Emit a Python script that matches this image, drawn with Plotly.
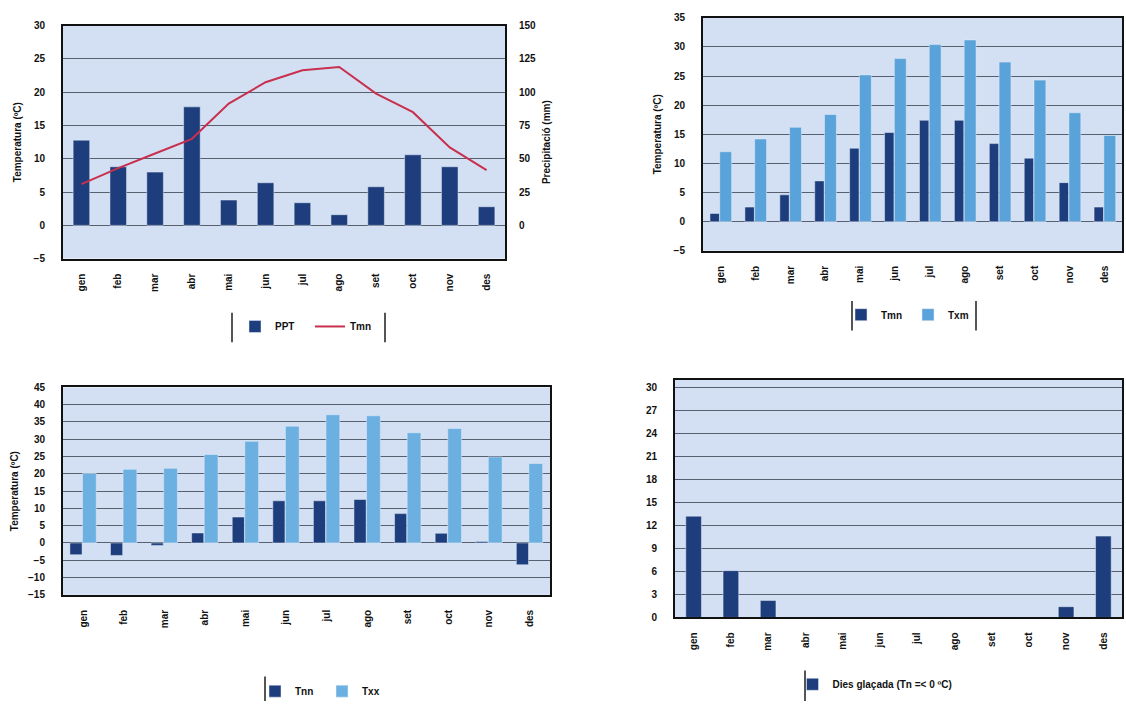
import plotly.graph_objects as go

months = ["gen", "feb", "mar", "abr", "mai", "jun", "jul", "ago", "set", "oct", "nov", "des"]

# climograma: precipitació (mm) i temperatura mitjana (ºC)
ppt = [64, 44, 40, 89, 19, 32, 17, 8, 29, 53, 44, 14]
tmn_mean = [6.2, 8.6, 10.8, 13.0, 18.3, 21.5, 23.3, 23.8, 19.8, 17.0, 11.7, 8.3]

# mitjanes de mínimes i màximes
tmn = [1.4, 2.5, 4.6, 7.0, 12.6, 15.3, 17.4, 17.4, 13.4, 10.9, 6.7, 2.5]
txm = [12.0, 14.2, 16.2, 18.4, 25.2, 28.0, 30.4, 31.2, 27.4, 24.3, 18.7, 14.8]

# extrems absoluts
tnn = [-3.4, -3.6, -0.7, 2.9, 7.5, 12.2, 12.2, 12.6, 8.5, 2.8, 0.4, -6.3]
txx = [20.1, 21.3, 21.6, 25.6, 29.4, 33.8, 37.1, 36.8, 31.9, 33.1, 24.9, 23.0]

# dies de glaçada
frost_days = [13.2, 6.1, 2.2, 0, 0, 0, 0, 0, 0, 0, 1.4, 10.6]

DARK = "#1d3d7c"
LIGHT = "#5aa3da"
LIGHT2 = "#6cb0e2"
BG = "#d3e0f3"
GRID = "#56606e"
FONT = dict(family="Liberation Sans, Arial", size=10, color="#111", weight="bold")
LFONT = dict(family="Liberation Sans, Arial", size=10, color="#111")

W, H = 1126, 707


def dom_x(a, b):
    return [a / W, b / W]


def dom_y(top, bottom):
    return [1 - bottom / H, 1 - top / H]


fig = go.Figure()

# --- chart 1: climograma ---
fig.add_trace(go.Bar(x=months, y=ppt, name="PPT", marker_color=DARK,
                     width=0.45, xaxis="x", yaxis="y", legend="legend"))
fig.add_trace(go.Scatter(x=months, y=tmn_mean, name="Tmn", mode="lines",
                         line=dict(color="#c8304e", width=2),
                         xaxis="x", yaxis="y2", legend="legend"))

# --- chart 2: Tmn / Txm ---
fig.add_trace(go.Bar(x=months, y=tmn, name="Tmn", marker_color=DARK,
                     width=0.27, offset=-0.3, xaxis="x2", yaxis="y3", legend="legend2"))
fig.add_trace(go.Bar(x=months, y=txm, name="Txm", marker_color=LIGHT,
                     width=0.34, offset=-0.02, xaxis="x2", yaxis="y3", legend="legend2"))

# --- chart 3: Tnn / Txx ---
fig.add_trace(go.Bar(x=months, y=tnn, name="Tnn", marker_color=DARK,
                     width=0.3, offset=-0.33, xaxis="x3", yaxis="y4", legend="legend3"))
fig.add_trace(go.Bar(x=months, y=txx, name="Txx", marker_color=LIGHT2,
                     width=0.34, offset=-0.02, xaxis="x3", yaxis="y4", legend="legend3"))

# --- chart 4: dies de glaçada ---
fig.add_trace(go.Bar(x=months, y=frost_days, name="Dies glaçada (Tn =< 0 ºC)",
                     marker_color=DARK, width=0.42,
                     xaxis="x4", yaxis="y5", legend="legend4"))

xcommon = dict(type="category", range=[-0.5, 11.5], tickangle=-90, showgrid=False,
               showline=True, linecolor="#111", linewidth=2, mirror=True, ticks="",
               tickfont=FONT, ticklabelstandoff=9)
ycommon = dict(showgrid=True, gridcolor=GRID, gridwidth=1, zeroline=True,
               zerolinecolor=GRID, zerolinewidth=1, showline=True, linecolor="#111",
               linewidth=2, mirror=True, ticks="", ticklabelstandoff=14,
               tickfont=FONT, title_font=FONT)

leg = dict(orientation="h", xanchor="center", yanchor="middle", bgcolor="rgba(0,0,0,0)",
           font=LFONT, itemwidth=30, entrywidth=30)

fig.update_layout(
    width=W, height=H,
    margin=dict(l=0, r=0, t=0, b=0),
    paper_bgcolor="white",
    plot_bgcolor=BG,
    barmode="overlay",
    font=FONT,
    xaxis=dict(xcommon, domain=dom_x(63, 505), anchor="y"),
    yaxis=dict(ycommon, domain=dom_y(20, 257), anchor="x", side="right",
               range=[-25, 150], tickvals=[0, 25, 50, 75, 100, 125, 150],
               ticklabelstandoff=10,
               title=dict(text="Precipitació (mm)", standoff=8), showgrid=False,
               zeroline=False, mirror=False),
    yaxis2=dict(ycommon, overlaying="y", anchor="x", side="left",
                range=[-5, 30], dtick=5, title=dict(text="Temperatura (ºC)", standoff=10),
                mirror=False),
    xaxis2=dict(xcommon, domain=dom_x(703, 1122), anchor="y3"),
    yaxis3=dict(ycommon, domain=dom_y(12, 249), anchor="x2",
                range=[-5, 35], dtick=5, title=dict(text="Temperatura (ºC)", standoff=10)),
    xaxis3=dict(xcommon, domain=dom_x(63, 550), anchor="y4"),
    yaxis4=dict(ycommon, domain=dom_y(388, 599), anchor="x3",
                range=[-15, 45], dtick=5, title=dict(text="Temperatura (ºC)", standoff=8)),
    xaxis4=dict(xcommon, domain=dom_x(675, 1122), anchor="y5"),
    yaxis5=dict(ycommon, domain=dom_y(380, 622), anchor="x4",
                range=[0, 31], tickvals=list(range(0, 31, 3))),
    legend=dict(leg, x=310 / W, y=1 - 326 / H),
    legend2=dict(leg, x=908 / W, y=1 - 314 / H, entrywidth=22),
    legend3=dict(leg, x=322 / W, y=1 - 697 / H, entrywidth=22),
    legend4=dict(leg, x=895 / W, y=1 - 690 / H, entrywidth=160),
)

# legend frame pieces (vertical bars on the sides as in the scanned original)
frames = [
    (232, 312, 342), (385, 312, 342),
    (852, 300, 330), (976, 300, 330),
    (265, 682, 707),
    (805, 676, 707),
]
for xp, y0, y1 in frames:
    fig.add_shape(type="line", xref="paper", yref="paper",
                  x0=xp / W, x1=xp / W, y0=1 - y1 / H, y1=1 - y0 / H,
                  line=dict(color="#555", width=2))

# page body margin would push the fixed-size figure off the window
fig.write_html("out.html", config={"displayModeBar": False},
               post_script="document.body.style.margin='0';document.body.style.overflow='hidden';")
